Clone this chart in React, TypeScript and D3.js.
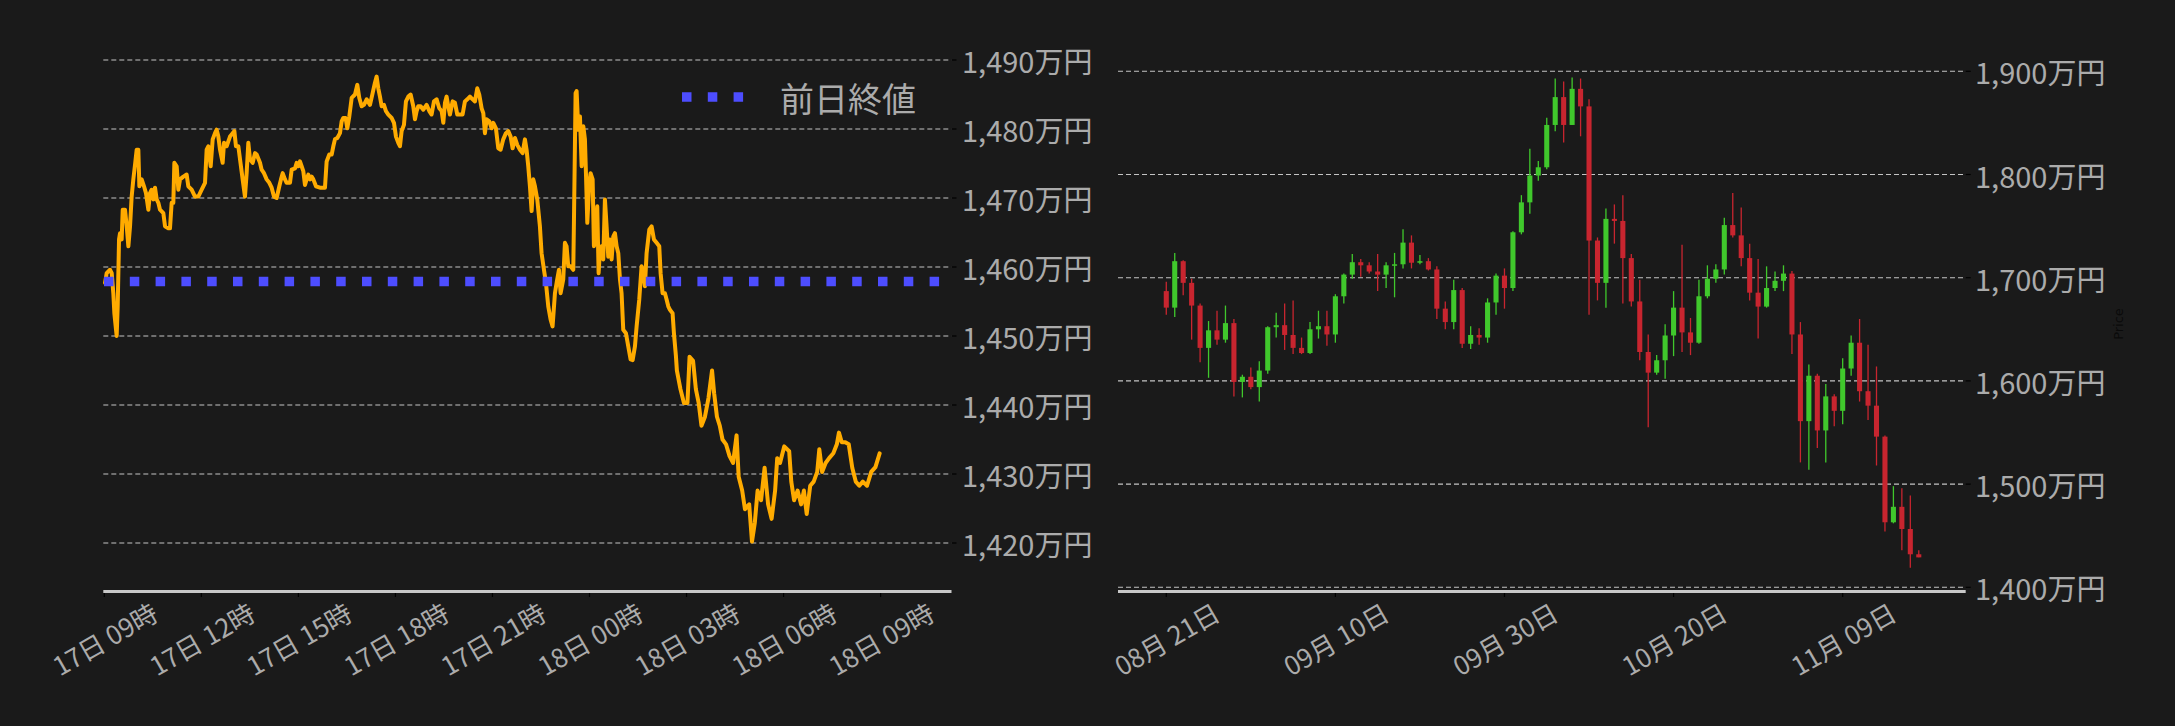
import React from 'react';
import * as d3 from 'd3';

// intraday: [minutes after 17日 09:00, price 万円]
const intraday: [number, number][] = [
  [1.3, 1457.7], [4.4, 1459.1], [10.6, 1459.6], [13.7, 1459.1], [16.7, 1456.2], [18.6, 1453.3], [22.9, 1450.0], [24.8, 1454.3],
  [27.3, 1464.0], [29.1, 1464.9], [32.2, 1464.0], [34.1, 1468.3], [38.4, 1468.3], [41.5, 1465.9], [44.6, 1463.0], [47.7, 1465.9],
  [50.7, 1470.2], [53.8, 1472.7], [56.9, 1474.8], [60.0, 1477.0], [63.1, 1477.0], [65.0, 1471.7], [69.3, 1472.7], [73.6, 1471.7],
  [77.3, 1470.7], [81.7, 1468.3], [84.7, 1470.7], [87.8, 1471.2], [90.9, 1469.8], [94.0, 1471.5], [97.1, 1469.8], [100.2, 1469.3],
  [103.3, 1468.3], [109.5, 1467.8], [112.6, 1465.9], [118.7, 1465.6], [121.8, 1465.6], [124.9, 1469.3], [128.0, 1469.3], [129.9, 1475.1],
  [134.2, 1474.6], [137.3, 1471.2], [140.4, 1472.7], [146.6, 1473.1], [152.7, 1473.4], [155.8, 1471.7], [162.0, 1471.2], [168.2, 1470.2],
  [174.4, 1470.2], [180.6, 1471.2], [186.8, 1472.2], [189.8, 1477.0], [192.9, 1477.5], [197.3, 1474.6], [201.0, 1478.5], [205.3, 1479.4],
  [208.4, 1479.9], [211.5, 1478.9], [214.6, 1477.0], [219.5, 1475.1], [222.0, 1478.0], [226.9, 1477.5], [233.1, 1478.9], [238.1, 1479.4],
  [241.2, 1479.7], [244.2, 1477.5], [248.6, 1477.5], [251.7, 1475.6], [256.6, 1472.7], [260.9, 1470.2], [264.0, 1473.6], [267.1, 1478.0],
  [270.2, 1475.6], [275.2, 1475.1], [279.5, 1476.5], [282.6, 1476.3], [288.8, 1475.1], [291.8, 1474.1], [296.2, 1473.6], [301.1, 1472.7],
  [306.1, 1472.2], [310.4, 1471.5], [314.7, 1470.2], [319.7, 1470.0], [324.6, 1471.7], [327.7, 1472.7], [330.8, 1473.6], [335.1, 1472.7],
  [338.2, 1472.2], [344.4, 1472.2], [347.5, 1474.1], [353.7, 1474.3], [356.8, 1475.1], [359.8, 1474.6], [362.9, 1475.3], [366.0, 1474.6],
  [369.1, 1473.9], [372.2, 1471.9], [375.3, 1472.7], [378.4, 1473.4], [381.5, 1472.7], [384.6, 1473.1], [387.7, 1472.7], [392.6, 1471.7],
  [400.0, 1471.5], [409.3, 1471.5], [412.4, 1475.3], [417.3, 1476.3], [421.7, 1476.3], [424.8, 1477.5], [427.8, 1478.5], [432.2, 1478.7],
  [437.1, 1479.4], [440.2, 1481.1], [443.3, 1481.6], [447.6, 1481.6], [450.7, 1480.1], [454.4, 1481.8], [458.8, 1484.5], [465.0, 1485.0],
  [469.3, 1486.4], [473.0, 1484.5], [477.3, 1483.3], [481.6, 1483.5], [486.6, 1484.3], [492.8, 1483.5], [497.7, 1485.2], [502.0, 1486.7],
  [505.1, 1487.6], [508.2, 1485.9], [511.3, 1484.7], [514.4, 1483.3], [518.7, 1483.5], [522.4, 1482.6], [526.8, 1482.1], [532.9, 1481.6],
  [537.3, 1480.9], [541.0, 1478.9], [545.3, 1478.0], [548.4, 1477.5], [551.5, 1479.7], [555.8, 1480.6], [559.5, 1484.0], [563.9, 1484.7],
  [568.2, 1485.0], [573.1, 1483.3], [576.2, 1481.4], [579.3, 1482.6], [582.4, 1483.3], [586.7, 1483.3], [591.7, 1482.8], [597.8, 1483.5],
  [602.8, 1482.6], [607.1, 1482.1], [611.5, 1484.0], [616.4, 1484.3], [621.3, 1483.0], [625.7, 1482.6], [628.8, 1480.9], [631.9, 1483.8],
  [634.9, 1484.7], [638.0, 1483.3], [641.1, 1482.1], [646.1, 1484.0], [650.4, 1483.8], [654.7, 1482.1], [659.7, 1482.1], [664.6, 1482.1],
  [668.9, 1484.0], [673.3, 1484.3], [678.2, 1484.7], [683.2, 1484.3], [687.5, 1484.0], [691.8, 1485.9], [695.5, 1485.0], [699.9, 1483.0],
  [703.0, 1482.3], [706.0, 1479.4], [709.1, 1481.4], [714.1, 1481.1], [718.4, 1480.1], [721.5, 1480.9], [726.4, 1480.1], [730.8, 1477.2],
  [735.1, 1477.0], [740.0, 1478.5], [745.0, 1479.4], [749.3, 1479.7], [753.7, 1478.9], [757.4, 1477.2], [761.7, 1478.7], [766.0, 1477.7],
  [771.0, 1477.0], [775.9, 1476.5], [780.2, 1478.5], [783.3, 1477.0], [786.4, 1474.6], [789.5, 1471.7], [792.6, 1468.1], [795.7, 1472.7],
  [798.8, 1471.7], [803.1, 1469.8], [808.0, 1465.9], [811.1, 1462.0], [815.5, 1459.6], [819.2, 1457.7], [823.5, 1454.3], [827.8, 1452.4],
  [831.5, 1451.4], [835.9, 1456.2], [839.0, 1457.7], [843.3, 1459.6], [846.4, 1456.2], [851.3, 1458.2], [854.4, 1463.5], [857.5, 1463.0],
  [860.6, 1460.1], [864.9, 1460.1], [869.9, 1459.6], [871.1, 1466.4], [874.2, 1485.2], [876.1, 1485.5], [879.2, 1479.9], [882.3, 1481.8],
  [885.4, 1474.6], [888.5, 1480.4], [891.5, 1478.5], [893.4, 1473.6], [895.9, 1466.4], [899.6, 1472.2], [902.0, 1473.6], [905.8, 1472.7],
  [908.2, 1463.0], [911.9, 1464.0], [914.4, 1468.8], [916.9, 1459.1], [919.4, 1462.5], [922.4, 1463.0], [925.5, 1461.1], [928.6, 1469.8],
  [931.7, 1465.9], [934.8, 1461.5], [937.9, 1464.0], [941.0, 1461.1], [944.1, 1464.4], [947.2, 1464.9], [950.3, 1463.0], [953.4, 1462.0],
  [956.5, 1458.2], [959.5, 1456.2], [962.6, 1450.9], [967.6, 1450.4], [971.9, 1448.5], [976.2, 1446.6], [980.0, 1446.5], [984.3, 1448.5],
  [987.4, 1451.4], [992.3, 1455.3], [996.6, 1460.1], [999.7, 1459.1], [1002.8, 1457.2], [1005.9, 1462.0], [1010.9, 1465.4], [1015.2, 1465.9],
  [1019.5, 1464.0], [1024.5, 1463.5], [1029.4, 1463.0], [1031.9, 1459.1], [1035.6, 1456.2], [1039.9, 1456.2], [1043.0, 1455.3], [1046.1, 1454.3],
  [1049.2, 1453.8], [1054.1, 1453.3], [1056.6, 1450.4], [1060.3, 1447.1], [1062.1, 1445.0], [1068.7, 1442.3], [1075.2, 1440.3], [1081.7, 1440.3],
  [1085.6, 1447.0], [1092.1, 1446.4], [1097.3, 1442.3], [1102.5, 1440.3], [1107.7, 1437.0], [1114.2, 1438.3], [1120.7, 1441.0], [1127.3, 1445.0],
  [1131.2, 1441.7], [1136.4, 1438.3], [1141.6, 1437.0], [1146.7, 1435.0], [1153.3, 1434.3], [1159.8, 1432.6], [1166.3, 1431.6], [1172.8, 1435.6],
  [1176.7, 1429.6], [1183.2, 1427.6], [1188.4, 1424.9], [1196.2, 1425.6], [1201.4, 1420.2], [1206.6, 1422.9], [1211.8, 1427.6], [1218.3, 1426.2],
  [1224.8, 1430.9], [1231.3, 1425.6], [1237.8, 1423.5], [1244.3, 1427.6], [1248.2, 1432.3], [1253.4, 1431.6], [1261.2, 1434.0], [1270.4, 1433.3],
  [1274.3, 1428.9], [1279.5, 1426.2], [1286.0, 1427.6], [1292.5, 1425.6], [1297.7, 1427.6], [1302.9, 1424.2], [1309.4, 1428.3], [1315.9, 1428.9],
  [1322.4, 1430.3], [1326.3, 1433.6], [1331.5, 1430.3], [1338.0, 1431.6], [1344.5, 1432.3], [1352.3, 1433.0], [1358.8, 1434.3], [1362.7, 1436.0],
  [1367.9, 1434.6], [1374.4, 1434.6], [1380.9, 1434.3], [1387.4, 1430.9], [1393.9, 1428.9], [1400.5, 1428.3], [1407.0, 1428.9], [1414.8, 1428.3],
  [1422.6, 1430.3], [1430.4, 1431.0], [1438.2, 1433.0],
];
const prevClose = 1457.9;
const intradayTicks = [1420, 1430, 1440, 1450, 1460, 1470, 1480, 1490];
const hourLabels = ['17日 09時', '17日 12時', '17日 15時', '17日 18時', '17日 21時', '18日 00時', '18日 03時', '18日 06時', '18日 09時'];

// daily candles from 08/21: [open, high, low, close]
const candles: [number, number, number, number][] = [
  [1687, 1696, 1664, 1671], [1671, 1724, 1662, 1716], [1716, 1717, 1683, 1695], [1695, 1699, 1640, 1673],
  [1673, 1675, 1618, 1632], [1632, 1658, 1603, 1649], [1649, 1668, 1635, 1640], [1640, 1673, 1637, 1656],
  [1656, 1660, 1585, 1599], [1599, 1606, 1584, 1604], [1604, 1613, 1592, 1594], [1594, 1619, 1580, 1610],
  [1610, 1653, 1607, 1652], [1652, 1666, 1642, 1654], [1654, 1675, 1630, 1644.5], [1644.5, 1678, 1626, 1632],
  [1632, 1642, 1626, 1627], [1627, 1657, 1626, 1650], [1650, 1668, 1641, 1653], [1653, 1668, 1634, 1645],
  [1645, 1684, 1637, 1682], [1682, 1704, 1675, 1703], [1703, 1723, 1699, 1715], [1715, 1718, 1701, 1712],
  [1712, 1715, 1704, 1706], [1706, 1723, 1687, 1703], [1703, 1715, 1690, 1712], [1712, 1724, 1681, 1713],
  [1713, 1747, 1709, 1734], [1734, 1741, 1709, 1714.5], [1714.5, 1722, 1713, 1716], [1716, 1719, 1707, 1708],
  [1708, 1711, 1660, 1670], [1670, 1677, 1650, 1657], [1657, 1698, 1650, 1688], [1688, 1690, 1632, 1636],
  [1636, 1653, 1631, 1644.5], [1644.5, 1651, 1635, 1642], [1642, 1680, 1637, 1676], [1676, 1704, 1664, 1702],
  [1702, 1709, 1670, 1690], [1690, 1745, 1687, 1744], [1744, 1780, 1742, 1773], [1773, 1825, 1762, 1799],
  [1799, 1813, 1794, 1807], [1807, 1855, 1805, 1848], [1848, 1893, 1842, 1875], [1875, 1890, 1831, 1848],
  [1848, 1894, 1848, 1883], [1883, 1893, 1837, 1866], [1866, 1873, 1664, 1736], [1736, 1739, 1678, 1695],
  [1695, 1767, 1671, 1757], [1757, 1771, 1733, 1755], [1755, 1780, 1675, 1719], [1719, 1723, 1672, 1677],
  [1677, 1698, 1620, 1628], [1628, 1645, 1555, 1608], [1608, 1625, 1606, 1620], [1620, 1655, 1602, 1644],
  [1644, 1687, 1624, 1671], [1671, 1732, 1628, 1647], [1647, 1661, 1625, 1637], [1637, 1698, 1636, 1682],
  [1682, 1712, 1680, 1699], [1699, 1713, 1695, 1708], [1708, 1758, 1703, 1751], [1751, 1782, 1739, 1741],
  [1741, 1768, 1711, 1719], [1719, 1733, 1678, 1685.5], [1685.5, 1718, 1641, 1672], [1672, 1711, 1671, 1690],
  [1690, 1706, 1687, 1697], [1697, 1712, 1687, 1704], [1704, 1706.5, 1626, 1645], [1645, 1657, 1521, 1561],
  [1561, 1616, 1514, 1605], [1605, 1607, 1535, 1552], [1552, 1597, 1521, 1585], [1585, 1587, 1556, 1571],
  [1571, 1622, 1558, 1612], [1612, 1644, 1605, 1637], [1637, 1660, 1580, 1590], [1590, 1635, 1562, 1576],
  [1576, 1614, 1518, 1546], [1546, 1547, 1454, 1463], [1463, 1498, 1462, 1478], [1478, 1496, 1436, 1456.5],
  [1456.5, 1489, 1419, 1432], [1432, 1436, 1429, 1429],
];
const dateTickIndex = [0, 20, 40, 60, 80];
const dateLabels = ['08月 21日', '09月 10日', '09月 30日', '10月 20日', '11月 09日'];
const dailyTicks = [1400, 1500, 1600, 1700, 1800, 1900];

const BG = '#1a1a1a';
const TEXT = '#ababab';
const GRID = '#c4c4c4';
const SPINE = '#c8c8c8';
const FONT = '"Noto Sans CJK JP", "Noto Sans", sans-serif';
const UP = '#40c82c';
const DOWN = '#c8252f';

const yen = (v: number) => d3.format(',')(v) + '万円';

const App: React.FC = () => {
  const axisY = 591.5;

  // left: intraday line
  const xL = d3.scaleLinear().domain([-1.9, 1571.5]).range([103.3, 951.5]);
  const yL = d3.scaleLinear().domain([1420, 1490]).range([543, 60]);
  const path = d3.line<[number, number]>()
    .x(d => xL(d[0]))
    .y(d => yL(d[1]))(intraday) || '';

  // right: candles
  const xR = d3.scaleLinear().domain([-5.71, 94.55]).range([1118, 1965.7]);
  const yR = d3.scaleLinear().domain([1400, 1900]).range([587.3, 71.3]);
  const step = xR(1) - xR(0);
  const bodyW = step * 0.6;

  return (
    <svg width={2175} height={726} style={{ position: 'absolute', left: 0, top: 0, background: BG }}
      fontFamily={FONT}>
      <rect width={2175} height={726} fill={BG} />

      {/* left grid */}
      {intradayTicks.map(v => (
        <g key={'lg' + v}>
          <line x1={103.3} x2={951.5} y1={yL(v)} y2={yL(v)} stroke={GRID} strokeWidth={1.1} strokeDasharray="5 3" />
          <line x1={951.5} x2={956.5} y1={yL(v)} y2={yL(v)} stroke="#000" strokeWidth={1.2} />
          <text x={962} y={yL(v)} fill={TEXT} fontSize={29} dominantBaseline="central">{yen(v)}</text>
        </g>
      ))}
      <path d={path} fill="none" stroke="#ffab00" strokeWidth={4} strokeLinejoin="round" strokeLinecap="round" />
      <line x1={104} x2={951.5} y1={yL(prevClose)} y2={yL(prevClose)} stroke="#4d4dff" strokeWidth={9.5}
        strokeDasharray="9.5 16.3" />
      <line x1={103.3} x2={951.5} y1={axisY} y2={axisY} stroke={SPINE} strokeWidth={3} />
      {hourLabels.map((lab, i) => {
        const x = xL(i * 180);
        return (
          <g key={lab}>
            <line x1={x} x2={x} y1={axisY + 1.5} y2={axisY + 5.5} stroke="#000" strokeWidth={1.2} />
            <text transform={`translate(${x},638) rotate(-30)`} textAnchor="middle" dominantBaseline="central"
              fill={TEXT} fontSize={26}>{lab}</text>
          </g>
        );
      })}
      {/* legend */}
      <line x1={682} x2={744} y1={97} y2={97} stroke="#4d4dff" strokeWidth={9.5} strokeDasharray="9.5 16.3" />
      <text x={780} y={97} fill={TEXT} fontSize={34} dominantBaseline="central">前日終値</text>

      {/* right grid */}
      {dailyTicks.map(v => (
        <g key={'rg' + v}>
          <line x1={1118} x2={1965.7} y1={yR(v)} y2={yR(v)} stroke={GRID} strokeWidth={1.1} strokeDasharray="5 3" />
          <line x1={1965.7} x2={1970.7} y1={yR(v)} y2={yR(v)} stroke="#000" strokeWidth={1.2} />
          <text x={1975} y={yR(v)} fill={TEXT} fontSize={29} dominantBaseline="central">{yen(v)}</text>
        </g>
      ))}
      {candles.map((c, i) => {
        const [o, h, l, cl] = c;
        const x = xR(i);
        const col = cl >= o ? UP : DOWN;
        const top = yR(Math.max(o, cl));
        const bot = yR(Math.min(o, cl));
        return (
          <g key={'c' + i}>
            <line x1={x} x2={x} y1={yR(h)} y2={yR(l)} stroke={col} strokeWidth={1.3} />
            <rect x={x - bodyW / 2} y={top} width={bodyW} height={Math.max(bot - top, 1.5)} fill={col} />
          </g>
        );
      })}
      <line x1={1118} x2={1965.7} y1={axisY} y2={axisY} stroke={SPINE} strokeWidth={3} />
      {dateTickIndex.map((idx, i) => {
        const x = xR(idx);
        return (
          <g key={dateLabels[i]}>
            <line x1={x} x2={x} y1={axisY + 1.5} y2={axisY + 5.5} stroke="#000" strokeWidth={1.2} />
            <text transform={`translate(${x},638) rotate(-30)`} textAnchor="middle" dominantBaseline="central"
              fill={TEXT} fontSize={26}>{dateLabels[i]}</text>
          </g>
        );
      })}
      <text transform="translate(2118,324) rotate(-90)" textAnchor="middle" dominantBaseline="central"
        fill="#0a0a0a" fontSize={13} fontFamily="DejaVu Sans">Price</text>
    </svg>
  );
};

export default App;
